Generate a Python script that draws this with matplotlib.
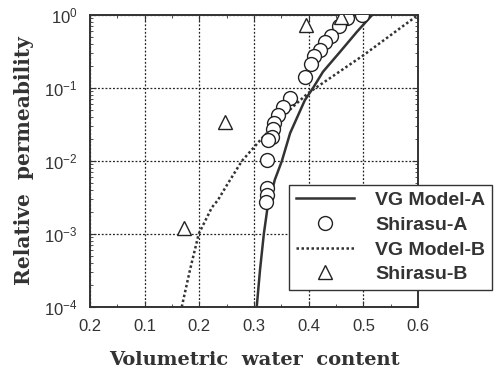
import matplotlib
matplotlib.use("Agg")

import numpy as np
import matplotlib.pyplot as plt
from matplotlib.ticker import MultipleLocator, LogLocator, NullFormatter

# VG Model-A (solid curve)
vg_a_x = [0.305, 0.311, 0.318, 0.324, 0.338, 0.351, 0.366, 0.393, 0.408, 0.426, 0.457, 0.488, 0.516]
vg_a_y = [1e-4, 3.2e-4, 1e-3, 2.1e-3, 5.5e-3, 1e-2, 2.4e-2, 6.8e-2, 0.1, 0.166, 0.31, 0.585, 1.0]

# Shirasu-A measured points (circles)
shir_a_x = [0.497, 0.470, 0.455, 0.441, 0.429, 0.420, 0.410, 0.404, 0.393,
            0.366, 0.353, 0.344, 0.336, 0.335, 0.333, 0.325, 0.324, 0.324, 0.324, 0.322]
shir_a_y = [1.0, 0.92, 0.70, 0.52, 0.42, 0.33, 0.27, 0.21, 0.14,
            0.073, 0.055, 0.043, 0.033, 0.027, 0.021, 0.0194, 0.0103, 0.0043, 0.0034, 0.0027]

# VG Model-B (dotted curve)
vg_b_x = [0.168, 0.183, 0.199, 0.223, 0.234, 0.25, 0.278, 0.316, 0.371, 0.399, 0.5, 0.6]
vg_b_y = [1e-4, 3.2e-4, 1e-3, 2.3e-3, 2.9e-3, 4.6e-3, 1e-2, 2.1e-2, 5.5e-2, 8.5e-2, 0.28, 1.0]

# Shirasu-B measured points (triangles)
shir_b_x = [0.172, 0.247, 0.395, 0.459]
shir_b_y = [0.0012, 0.034, 0.73, 0.94]

x_ticks = [0.0, 0.1, 0.2, 0.3, 0.4, 0.5, 0.6]
x_ticklabels = ["0.2", "0.1", "0.2", "0.3", "0.4", "0.5", "0.6"]

fig = plt.figure(figsize=(4.99, 3.72), dpi=100)
ax = fig.add_axes([0.180, 0.175, 0.658, 0.785])

ax.plot(vg_a_x, vg_a_y, color="#333333", lw=1.8, ls="-", label="VG Model-A", zorder=3)
ax.plot(shir_a_x, shir_a_y, ls="none", marker="o", ms=10, mfc="white", mec="#222222",
        mew=1.0, label="Shirasu-A", zorder=4)
ax.plot(vg_b_x, vg_b_y, color="#333333", lw=1.8, ls=(0, (1, 1)), label="VG Model-B", zorder=3)
ax.plot(shir_b_x, shir_b_y, ls="none", marker="^", ms=10, mfc="white", mec="#222222",
        mew=1.0, label="Shirasu-B", zorder=4)

ax.set_yscale("log")
ax.set_xlim(0, 0.6)
ax.set_ylim(1e-4, 1)
ax.set_xticks(x_ticks)
ax.set_xticklabels(x_ticklabels)
ax.xaxis.set_minor_locator(MultipleLocator(0.05))
ax.yaxis.set_minor_locator(LogLocator(base=10, subs=np.arange(2, 10)))
ax.yaxis.set_minor_formatter(NullFormatter())

ax.grid(True, which="major", color="#222222", ls=(0, (1.5, 1.5)), lw=0.9)
ax.tick_params(which="both", direction="in", top=True, right=True, color="#333333")
ax.tick_params(which="major", length=4, labelsize=12, pad=9)
ax.tick_params(which="minor", length=2)
for lab in ax.get_xticklabels() + ax.get_yticklabels():
    lab.set_fontfamily("Liberation Sans")
    lab.set_color("#333333")
for sp in ax.spines.values():
    sp.set_linewidth(1.4)
    sp.set_color("#333333")

ax.set_xlabel("Volumetric  water  content", family="DejaVu Serif", fontweight="bold",
              fontsize=14, color="#333333", labelpad=12)
ax.set_ylabel("Relative  permeability", family="DejaVu Serif", fontweight="bold",
              fontsize=14.5, color="#333333", labelpad=7)

leg = fig.legend(loc="upper left", bbox_to_anchor=(0.579, 0.503), borderaxespad=0,
                 prop={"family": "Liberation Sans", "weight": "bold", "size": 14},
                 handlelength=3.0, handletextpad=1.1, borderpad=0.35, labelspacing=0.36,
                 fancybox=False, framealpha=1, edgecolor="#333333")
leg.get_frame().set_linewidth(1.0)
for t in leg.get_texts():
    t.set_color("#333333")

fig.savefig("out.png", dpi=100)
